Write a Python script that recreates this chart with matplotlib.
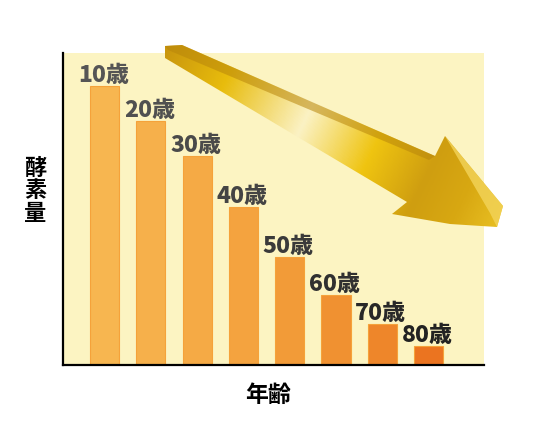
import numpy as np
import matplotlib
matplotlib.use("Agg")
import matplotlib.pyplot as plt
from matplotlib.patches import Polygon
from matplotlib.colors import LinearSegmentedColormap

plt.rcParams['font.family'] = ['Noto Sans CJK JP', 'DejaVu Sans']

# data ==========================
ages = ['10歳', '20歳', '30歳', '40歳', '50歳', '60歳', '70歳', '80歳']
enzyme = [279, 244, 209, 158, 108, 70, 41, 19]
bar_colors = ['#F7B650', '#F6B04B', '#F5AA45', '#F4A33F', '#F29B38',
              '#F09131', '#EE862A', '#EB7420']
label_colors = ['#555555', '#505050', '#4a4a4a', '#444444', '#3a3a3a',
                '#303030', '#282828', '#222222']

W, H = 550, 431
fig = plt.figure(figsize=(W / 100, H / 100), dpi=100)
fig.patch.set_facecolor('white')

# main chart ====================
ax = fig.add_axes([63 / W, (H - 366) / H, (484 - 63) / W, (366 - 54) / H])
ax.set_facecolor('#FCF4C2')
x = np.arange(len(ages))
ax.bar(x, enzyme, width=0.63, color=bar_colors, edgecolor='#F5A23A',
       linewidth=0.8, zorder=2)
for i in range(len(ages)):
    ax.text(x[i] - 0.03, enzyme[i] + 5, ages[i], ha='center', va='baseline',
            fontsize=16.5, fontweight='heavy', color=label_colors[i], zorder=3)
ax.set_xlim(-0.9, 8.2)
ax.set_ylim(0, 312)
ax.set_xticks([])
ax.set_yticks([])
for s in ['top', 'right']:
    ax.spines[s].set_visible(False)
for s in ['left', 'bottom']:
    ax.spines[s].set_linewidth(1.6)
    ax.spines[s].set_color('black')

fig.text(35 / W, 1 - 191 / H, '酵\n素\n量', ha='center', va='center',
         fontsize=16, fontweight='bold', linespacing=1.0)
fig.text(268 / W, 1 - 395 / H, '年齢', ha='center', va='center',
         fontsize=16.5, fontweight='bold')

# gold arrow (decoration) =======
ov = fig.add_axes([0, 0, 1, 1], zorder=5)
ov.set_xlim(0, W)
ov.set_ylim(H, 0)
ov.axis('off')
ov.patch.set_alpha(0)

body = [(165, 47), (182, 46), (435, 157), (445, 137), (503, 207),
        (497, 228), (450, 225), (392, 215), (407, 203), (165, 59)]
poly = Polygon(body, closed=True, facecolor='none', edgecolor='none')
ov.add_patch(poly)

gold = LinearSegmentedColormap.from_list('gold', [
    (0.0, '#C9960E'), (0.18, '#E8BC0C'), (0.42, '#FBF2C4'),
    (0.62, '#EFC410'), (0.78, '#CF9E10'), (0.9, '#D8A812'), (1.0, '#E6BC20')])
gx, gy = np.meshgrid(np.linspace(160, 510, 300), np.linspace(40, 235, 200))
t = ((gx - 165) * 335 + (gy - 50) * 165) / (335 ** 2 + 165 ** 2)
img = ov.imshow(np.clip(t, 0, 1), cmap=gold, extent=(160, 510, 235, 40),
                origin='upper', aspect='auto', zorder=1)
img.set_clip_path(poly)

top_face = Polygon([(165, 47), (182, 46), (435, 157), (429, 161), (168, 51)],
                   closed=True, facecolor='#B8860B', alpha=0.55,
                   edgecolor='none', zorder=2)
ov.add_patch(top_face)
head_side = Polygon([(445, 137), (503, 207), (497, 228), (490, 214)],
                    closed=True, facecolor='#F3D45A', alpha=0.8,
                    edgecolor='none', zorder=2)
ov.add_patch(head_side)

fig.savefig('out.png', dpi=100)
